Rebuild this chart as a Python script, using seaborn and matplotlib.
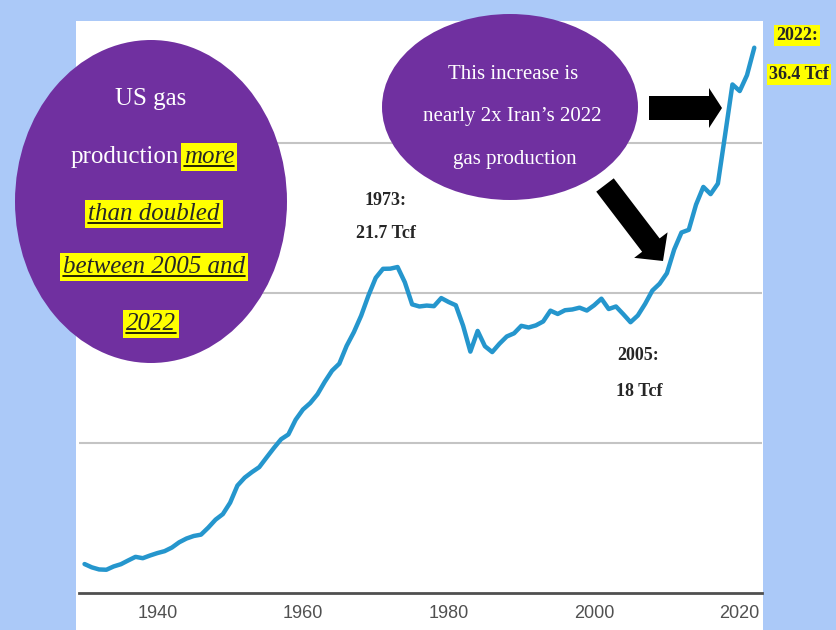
import matplotlib
matplotlib.use('Agg')
import matplotlib.pyplot as plt
from matplotlib import font_manager
from matplotlib.patches import Ellipse, Rectangle, FancyArrow
from matplotlib.lines import Line2D
from matplotlib.transforms import IdentityTransform
import seaborn as sns

# US dry natural gas production, trillion cubic feet
years = list(range(1930, 2023))
production_tcf = [
    1.93, 1.71, 1.57, 1.55, 1.77, 1.92, 2.17, 2.41, 2.32, 2.50,
    2.66, 2.79, 3.03, 3.38, 3.63, 3.80, 3.89, 4.36, 4.89, 5.26,
    6.02, 7.16, 7.69, 8.06, 8.39, 9.03, 9.66, 10.25, 10.57, 11.55,
    12.23, 12.66, 13.25, 14.08, 14.82, 15.29, 16.47, 17.39, 18.49, 19.83,
    21.01, 21.61, 21.62, 21.73, 20.71, 19.24, 19.10, 19.16, 19.12, 19.66,
    19.40, 19.18, 17.82, 16.09, 17.47, 16.45, 16.06, 16.62, 17.10, 17.31,
    17.81, 17.70, 17.84, 18.10, 18.82, 18.60, 18.85, 18.90, 19.02, 18.83,
    19.18, 19.62, 18.93, 19.10, 18.59, 18.05, 18.50, 19.27, 20.16, 20.62,
    21.32, 22.90, 24.03, 24.21, 25.89, 27.07, 26.59, 27.29, 30.57, 33.90,
    33.46, 34.52, 36.35,
]
tick_years = [1940, 1960, 1980, 2000, 2020]
tick_labels = ['1940', '1960', '1980', '2000', '2020']
grid_levels = [10, 20, 30]

W, H = 837, 630
BLUE = '#abc9f8'
PURPLE = '#7030a0'
YELLOW = '#ffff00'
LINE = '#2596cd'


def px(x, y):
    # pixel position measured from top-left -> figure fraction
    return x / W, 1 - y / H


sns.set_style('white')
installed = {f.name for f in font_manager.fontManager.ttflist}
sans = 'Liberation Sans Narrow' if 'Liberation Sans Narrow' in installed else 'Liberation Sans'
serif = 'Liberation Serif'
plt.rcParams['font.family'] = [serif, 'DejaVu Serif']

fig = plt.figure(figsize=(W / 100, H / 100), dpi=100, facecolor=BLUE)
fig.add_artist(Rectangle(px(76, H), (763 - 76) / W, (H - 21) / H,
                         transform=fig.transFigure, fc='white', ec='none', zorder=-1))

ax = fig.add_axes([79 / W, 1 - 593 / H, (762 - 79) / W, (593 - 21) / H])
ax.set_facecolor('white')
for g in grid_levels:
    ax.axhline(g, color='#c4c4c4', lw=1.5, zorder=1)
sns.lineplot(x=years, y=production_tcf, ax=ax, color=LINE, linewidth=3.2, zorder=3)
ax.set_xlim(1929.24, 2023.06)
ax.set_ylim(0, 38.13)
ax.set_xticks(tick_years, tick_labels)
ax.set_yticks([])
ax.set_xlabel('')
ax.set_ylabel('')
for side in ['left', 'right', 'top']:
    ax.spines[side].set_visible(False)
ax.spines['bottom'].set_color('#4f4f4f')
ax.spines['bottom'].set_linewidth(2)
ax.tick_params(axis='x', direction='out', length=7, width=1.2, color='#4f4f4f',
               pad=2, labelsize=13, labelcolor='#505050')
for lab in ax.get_xticklabels():
    lab.set_family(sans)

# callout shapes
fig.add_artist(FancyArrow(605, H - 185, 58, -76, width=22, head_width=42, head_length=20,
                          length_includes_head=True, fc='black', ec='none',
                          transform=IdentityTransform(), zorder=4))
fig.add_artist(FancyArrow(649, H - 108, 73, 0, width=24, head_width=40, head_length=13,
                          length_includes_head=True, fc='black', ec='none',
                          transform=IdentityTransform(), zorder=4))
fig.add_artist(Ellipse(px(151, 201.5), 272 / W, 323 / H, transform=fig.transFigure,
                       fc=PURPLE, ec='none', zorder=5))
fig.add_artist(Ellipse(px(510, 107), 256 / W, 186 / H, transform=fig.transFigure,
                       fc=PURPLE, ec='none', zorder=5))


def put(x, y, s, **kw):
    kw.setdefault('va', 'baseline')
    kw.setdefault('ha', 'center')
    kw.setdefault('family', [serif, 'DejaVu Serif'])
    return fig.text(*px(x, y), s, zorder=6, **kw)


hl_box = dict(boxstyle='square,pad=0.12', fc=YELLOW, ec='none')

put(151, 105, 'US gas', color='white', size=18)
put(179, 163, 'production', color='white', size=18, ha='right')
underlined = [
    (put(184, 163, 'more', size=18, ha='left', style='italic', bbox=hl_box), 163),
    (put(154, 220, 'than doubled', size=18, style='italic', bbox=hl_box), 220),
    (put(154, 273, 'between 2005 and', size=18, style='italic', bbox=hl_box), 273),
    (put(151, 330, '2022', size=18, style='italic', bbox=hl_box), 330),
]

put(513, 79, 'This increase is', color='white', size=15)
put(512, 121, 'nearly 2x Iran\u2019s 2022', color='white', size=15)
put(515, 164, 'gas production', color='white', size=15)

put(386, 205, '1973:', size=13, weight='bold')
put(386, 238, '21.7 Tcf', size=13, weight='bold')
put(638, 360, '2005:', size=13, weight='bold')
put(639, 396, '18 Tcf', size=13, weight='bold')
put(797, 40, '2022:', size=13, weight='bold', bbox=hl_box)
put(799, 79, '36.4 Tcf', size=13, weight='bold', bbox=hl_box)

renderer = fig.canvas.get_renderer()
for t, base in underlined:
    bb = t.get_window_extent(renderer)
    yl = H - base - 3
    fig.add_artist(Line2D([bb.x0, bb.x1], [yl, yl], color='black', lw=1.2,
                          transform=IdentityTransform(), zorder=7))

fig.savefig('out.png', dpi=100, facecolor=BLUE)
